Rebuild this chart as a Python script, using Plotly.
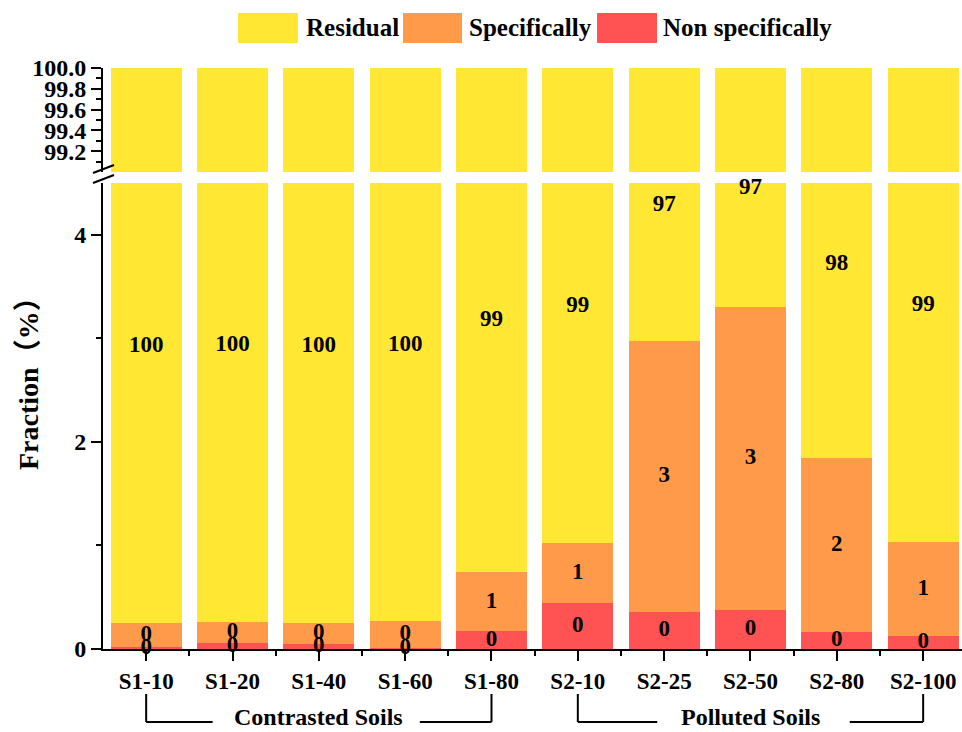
import plotly.graph_objects as go

# Sample names and fraction shares (%) for each extraction step
samples = ["S1-10", "S1-20", "S1-40", "S1-60", "S1-80",
           "S2-10", "S2-25", "S2-50", "S2-80", "S2-100"]
non_specific = [0.02, 0.055, 0.045, 0.005, 0.17, 0.44, 0.355, 0.38, 0.16, 0.13]
specific = [0.23, 0.21, 0.21, 0.27, 0.57, 0.58, 2.62, 2.92, 1.68, 0.90]
residual = [99.75, 99.735, 99.745, 99.725, 99.26, 98.98, 97.025, 96.70, 98.16, 98.97]

upper_ticks = [99.2, 99.4, 99.6, 99.8, 100.0]
upper_minor = [99.1, 99.3, 99.5, 99.7, 99.9]
lower_ticks = [0, 2, 4]
lower_minor = [1, 3]

YELLOW, ORANGE, RED = "#FFE734", "#FF9A4A", "#FF5252"
FONT = "Liberation Serif, Times New Roman, serif"
W, H = 962, 732
PL, PR, PT, PB = 103, 962, 68, 649   # plot area in pixels
LOWER_TOP = 4.5
RESID_REF = 5.6                      # residual labels sit between segment base and this level


def fx(px):
    return (px - PL) / (PR - PL)


def fy(py):
    return (PB - py) / (PB - PT)


xs = list(range(len(samples)))
fig = go.Figure()

series = [("Non specifically", non_specific, RED),
          ("Specifically", specific, ORANGE),
          ("Residual", residual, YELLOW)]
for yax in ("y", "y2"):
    for name, vals, col in series:
        fig.add_trace(go.Bar(
            x=xs, y=vals, name=name, marker=dict(color=col, line=dict(width=0)),
            width=0.82, xaxis="x", yaxis=yax, showlegend=False, hoverinfo="skip"))

# value labels
lab_x, lab_y, lab_t = [], [], []
for i in xs:
    a, b, c = non_specific[i], specific[i], residual[i]
    lab_x += [i, i, i]
    lab_y += [a / 2, a + b / 2, (a + b + RESID_REF) / 2]
    lab_t += [f"{round(a):.0f}", f"{round(b):.0f}", f"{round(c):.0f}"]
fig.add_trace(go.Scatter(
    x=lab_x, y=lab_y, text=lab_t, mode="text", xaxis="x", yaxis="y",
    textfont=dict(family=FONT, size=23, color="black", weight="bold"),
    cliponaxis=False, showlegend=False, hoverinfo="skip"))

xtickfont = dict(family=FONT, size=23, color="black", weight="bold")
ytickfont = dict(family=FONT, size=24, color="black", weight="bold")
axis_common = dict(showline=True, linecolor="black", linewidth=2, showgrid=False,
                   zeroline=False, ticks="outside", tickcolor="black", tickwidth=2)

fig.update_layout(
    width=W, height=H, plot_bgcolor="white", paper_bgcolor="white",
    margin=dict(l=PL, r=W - PR, t=PT, b=H - PB),
    barmode="stack", bargap=0.18,
    xaxis=dict(range=[-0.5, 9.45], tickvals=xs, ticktext=samples, ticklen=10,
               tickfont=xtickfont, anchor="y",
               minor=dict(tickvals=[i + 0.5 for i in xs[:-1]], ticklen=5,
                          ticks="outside", tickcolor="black", tickwidth=2),
               **axis_common),
    yaxis=dict(domain=[0, fy(183)], range=[0, LOWER_TOP], tickvals=lower_ticks,
               ticktext=[str(t) for t in lower_ticks], ticklen=10, tickfont=ytickfont,
               anchor="x",
               minor=dict(tickvals=lower_minor, ticklen=5, ticks="outside",
                          tickcolor="black", tickwidth=2),
               **axis_common),
    yaxis2=dict(domain=[fy(172), 1], range=[99.0, 100.0], tickvals=upper_ticks,
                ticktext=[f"{t:.1f}" for t in upper_ticks], ticklen=10,
                tickfont=ytickfont, anchor="x",
                minor=dict(tickvals=upper_minor, ticklen=5, ticks="outside",
                           tickcolor="black", tickwidth=2),
                **axis_common),
)

shapes = []
annotations = []

# axis break marks
for yc in (169, 179):
    shapes.append(dict(type="line", xref="paper", yref="paper",
                       x0=fx(93), y0=fy(yc + 4), x1=fx(114), y1=fy(yc - 4),
                       line=dict(color="black", width=2)))

# legend drawn as large swatches
legend_items = [("Residual", YELLOW, 238, 298, 304),
                ("Specifically", ORANGE, 403, 462, 467),
                ("Non specifically", RED, 597, 657, 661)]
for label, col, x0, x1, tx in legend_items:
    shapes.append(dict(type="rect", xref="paper", yref="paper",
                       x0=fx(x0), x1=fx(x1), y0=fy(43), y1=fy(13),
                       fillcolor=col, line=dict(width=0)))
    annotations.append(dict(text=label, xref="paper", yref="paper", x=fx(tx), y=fy(28),
                            xanchor="left", yanchor="middle", showarrow=False,
                            font=dict(family=FONT, size=25, color="black", weight="bold")))

# group brackets under the sample labels
groups = [("Contrasted Soils", 0, 4, 2.0, 0.77, 3.17),
          ("Polluted Soils", 5, 9, 7.0, 5.92, 8.15)]
for label, a, b, mid, gl, gr in groups:
    line = dict(color="black", width=2)
    shapes += [
        dict(type="line", xref="x", yref="paper", x0=a, x1=a, y0=fy(694), y1=fy(722), line=line),
        dict(type="line", xref="x", yref="paper", x0=b, x1=b, y0=fy(694), y1=fy(722), line=line),
        dict(type="line", xref="x", yref="paper", x0=a, x1=gl, y0=fy(722), y1=fy(722), line=line),
        dict(type="line", xref="x", yref="paper", x0=gr, x1=b, y0=fy(722), y1=fy(722), line=line),
    ]
    annotations.append(dict(text=label, xref="x", yref="paper", x=mid, y=fy(717),
                            xanchor="center", yanchor="middle", showarrow=False,
                            font=dict(family=FONT, size=24, color="black", weight="bold")))

annotations.append(dict(text="Fraction（%）", xref="paper", yref="paper",
                        x=fx(28), y=fy(377), textangle=-90, showarrow=False,
                        xanchor="center", yanchor="middle",
                        font=dict(family=FONT + ", Noto Sans CJK SC", size=28,
                                  color="black", weight="bold")))

fig.update_layout(shapes=shapes, annotations=annotations)
fig.write_html("out.html")
